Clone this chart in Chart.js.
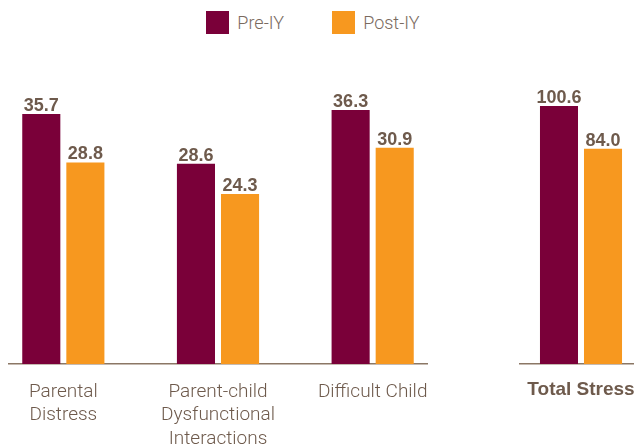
<!DOCTYPE html>
<html>
<head>
<meta charset="utf-8">
<script src="https://cdn.jsdelivr.net/npm/chart.js@4.4.0/dist/chart.umd.min.js"></script>
<style>
  body { margin:0; width:634px; height:447px; overflow:hidden; position:relative; background:#fff; }
  #legend { position:absolute; top:11px; left:-4px; width:634px; display:flex; justify-content:center; font-family:"Roboto",sans-serif; font-weight:300; font-size:18px; color:#7a6a5e; }
  .item { display:flex; align-items:center; height:23px; margin:0 24px; }
  .box { width:23px; height:23px; margin-right:8px; }
  #leftWrap { position:absolute; left:8px; top:0; width:420px; height:447px; overflow:hidden; }
  #leftWrap canvas { position:absolute; left:-22px; top:0; }
  #rightWrap { position:absolute; left:519px; top:0; width:115px; height:447px; overflow:hidden; }
  #rightWrap canvas { position:absolute; left:-9px; top:0; }
</style>
</head>
<body>
<div id="legend"></div>
<div id="leftWrap"><canvas id="subscales" width="464" height="447"></canvas></div>
<div id="rightWrap"><canvas id="total" width="142" height="447"></canvas></div>
<script>
// data
var seriesNames = ['Pre-IY', 'Post-IY'];
var categories = [['Parental', 'Distress'], ['Parent-child', 'Dysfunctional', 'Interactions'], 'Difficult Child'];
var preIY = [35.7, 28.6, 36.3];
var postIY = [28.8, 24.3, 30.9];
var totalCategory = ['Total Stress'];
var totalPre = [100.6];
var totalPost = [84.0];

var colors = ['#7a0039', '#f7981f'];
var textColor = '#6e5a4c';
var axisColor = '#8b7765';

// legend
var legend = document.getElementById('legend');
seriesNames.forEach(function(name, i){
  var item = document.createElement('div');
  item.className = 'item';
  item.innerHTML = '<span class="box" style="background:' + colors[i] + '"></span><span>' + name + '</span>';
  legend.appendChild(item);
});

var valueLabels = {
  id: 'valueLabels',
  afterDatasetsDraw: function(chart){
    var ctx = chart.ctx;
    ctx.save();
    ctx.font = 'bold 18px "Liberation Sans", Arial, sans-serif';
    ctx.fillStyle = textColor;
    ctx.textAlign = 'center';
    ctx.textBaseline = 'alphabetic';
    chart.data.datasets.forEach(function(ds, i){
      chart.getDatasetMeta(i).data.forEach(function(bar, j){
        ctx.fillText(ds.data[j].toFixed(1), bar.x, bar.y - 3);
      });
    });
    ctx.restore();
  }
};

function makeChart(id, labels, pre, post, yMax, catPct, tickFont, pad){
  return new Chart(document.getElementById(id), {
    type: 'bar',
    data: {
      labels: labels,
      datasets: [
        { label: seriesNames[0], data: pre, backgroundColor: colors[0] },
        { label: seriesNames[1], data: post, backgroundColor: colors[1] }
      ]
    },
    options: {
      responsive: false,
      animation: false,
      events: [],
      layout: { padding: 0 },
      datasets: { bar: { barPercentage: 0.864, categoryPercentage: catPct } },
      plugins: { legend: { display: false }, tooltip: { enabled: false } },
      scales: {
        x: {
          offset: true,
          grid: { display: false, drawTicks: false },
          border: { display: true, color: axisColor, width: 1.5 },
          ticks: { color: textColor, font: tickFont, padding: pad, maxRotation: 0, autoSkip: false },
          afterFit: function(axis){ axis.height = 83; }
        },
        y: { display: false, min: 0, max: yMax }
      }
    },
    plugins: [valueLabels]
  });
}

makeChart('subscales', categories, preIY, postIY, 52, 0.57,
  { family: 'Roboto', weight: 300, size: 19, lineHeight: 1.25 }, 16);
makeChart('total', totalCategory, totalPre, totalPost, 142, 0.62,
  { family: '"Liberation Sans", Arial', weight: 'bold', size: 19, lineHeight: 1.25 }, 14);
</script>
</body>
</html>
